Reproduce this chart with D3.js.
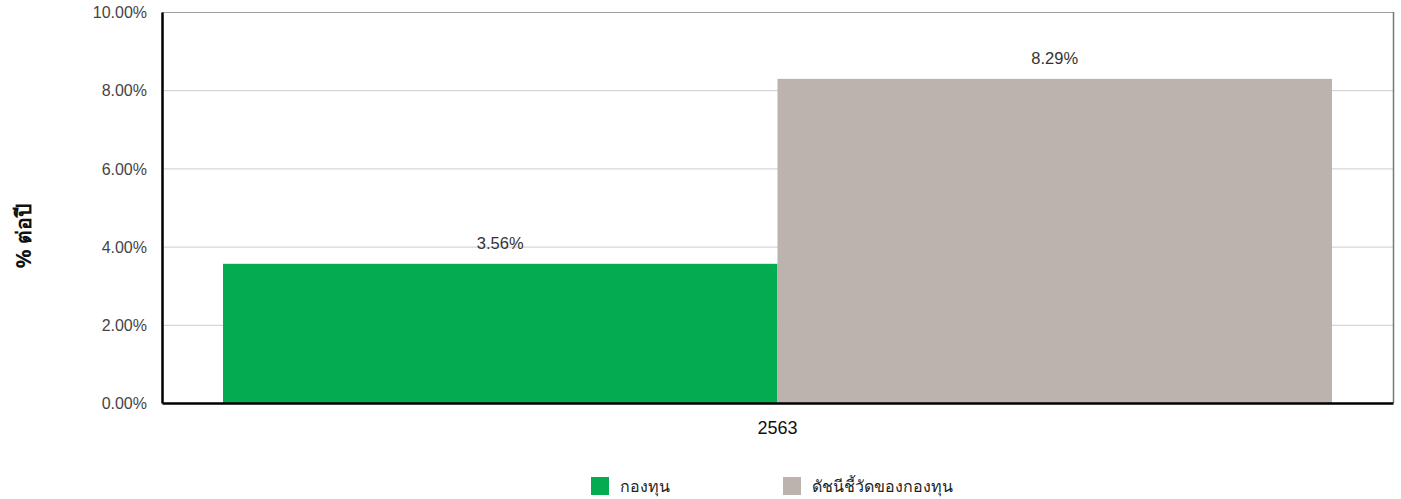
<!DOCTYPE html>
<html lang="th">
<head>
<meta charset="UTF-8">
<title>ผลตอบแทนกองทุน</title>
<style>
  body { margin: 0; background: #fff; }
  svg { display: block; font-family: "Liberation Sans", Arial, "Noto Sans", sans-serif; }
  .grid line { stroke-width: 1px; }
  .ytick { font-size: 16px; fill: #444; }
  .val { font-size: 16.5px; fill: #333; }
  .legend text { font-size: 16px; fill: #222; font-family: "Noto Sans", sans-serif; }
</style>
</head>
<body>
<svg width="1401" height="499"></svg>
<script src="https://cdn.jsdelivr.net/npm/d3@7/dist/d3.min.js"></script>
<script>
// data
const categories = ["2563"];
const seriesNames = ["กองทุน", "ดัชนีชี้วัดของกองทุน"];
const seriesValues = [3.56, 8.29];
const seriesColors = ["#03ab51", "#bdb3ae"];
const yTicks = [0, 2, 4, 6, 8, 10];
const yTitle = "% ต่อปี";

const svg = d3.select("svg");
const margin = { left: 162, right: 8, top: 12, bottom: 96 };
const width = 1401, height = 499;
const x0 = margin.left, x1 = width - margin.right;
const y0 = height - margin.bottom, y1 = margin.top;

const y = d3.scaleLinear().domain([0, 10]).range([y0, y1]);
const xCat = d3.scaleBand().domain(categories).range([x0, x1]).paddingInner(0).paddingOuter(0.055);
const xSeries = d3.scaleBand().domain(seriesNames).range([0, xCat.bandwidth()]).padding(0);

// gridlines
svg.append("g").attr("class", "grid")
  .selectAll("line").data(yTicks.filter(d => d > 0)).join("line")
  .attr("x1", x0).attr("x2", x1)
  .attr("y1", d => y(d) + 0.5).attr("y2", d => y(d) + 0.5)
  .attr("stroke", d => d === 10 ? "#a0a0a0" : "#cccccc");

// right border
svg.append("line").attr("x1", x1 + 0.5).attr("x2", x1 + 0.5)
  .attr("y1", y1).attr("y2", y0).attr("stroke", "#777").attr("stroke-width", 1.5);

// bars
const groups = svg.selectAll("g.cat").data(categories).join("g")
  .attr("class", "cat")
  .attr("transform", d => `translate(${xCat(d)},0)`);

groups.selectAll("rect").data(() => seriesNames.map((s, i) => ({ s, v: seriesValues[i], c: seriesColors[i] })))
  .join("rect")
  .attr("x", d => xSeries(d.s))
  .attr("width", xSeries.bandwidth())
  .attr("y", d => y(d.v))
  .attr("height", d => y(0) - y(d.v))
  .attr("fill", d => d.c);

groups.selectAll("text.val").data(() => seriesNames.map((s, i) => ({ s, v: seriesValues[i] })))
  .join("text")
  .attr("class", "val")
  .attr("x", d => xSeries(d.s) + xSeries.bandwidth() / 2)
  .attr("y", d => y(d.v) - 15)
  .attr("text-anchor", "middle")
  .text(d => d.v.toFixed(2) + "%");

// y axis
const yAxis = d3.axisLeft(y).tickValues(yTicks).tickSize(0).tickPadding(15)
  .tickFormat(d => d.toFixed(2) + "%");
const gy = svg.append("g").attr("transform", `translate(${x0},0)`).call(yAxis);
gy.select(".domain").attr("stroke", "#000").attr("stroke-width", 2.5);
gy.selectAll("text").attr("class", "ytick").attr("font-family", null).attr("font-size", null).attr("fill", null).attr("dy", "0.36em");

// x axis
const xAxis = d3.axisBottom(xCat).tickSize(0).tickPadding(18);
const gx = svg.append("g").attr("transform", `translate(0,${y0})`).call(xAxis);
gx.select(".domain").attr("stroke", "#000").attr("stroke-width", 2.5);
gx.selectAll("text").attr("font-family", null).attr("font-size", 18).attr("fill", "#111");

// y title
svg.append("text")
  .attr("transform", `translate(31,236) rotate(-90)`)
  .attr("text-anchor", "middle")
  .attr("font-size", 21).attr("font-weight", "bold").attr("fill", "#111")
  .attr("font-family", "'Noto Sans', sans-serif")
  .text(yTitle);

// legend
const legendX = [591, 783];
const legend = svg.append("g").attr("class", "legend");
const items = legend.selectAll("g").data(seriesNames).join("g")
  .attr("transform", (d, i) => `translate(${legendX[i]},477)`);
items.append("rect").attr("width", 18).attr("height", 18).attr("fill", (d, i) => seriesColors[i]);
items.append("text").attr("x", 29).attr("y", 15).text(d => d);
</script>
</body>
</html>
